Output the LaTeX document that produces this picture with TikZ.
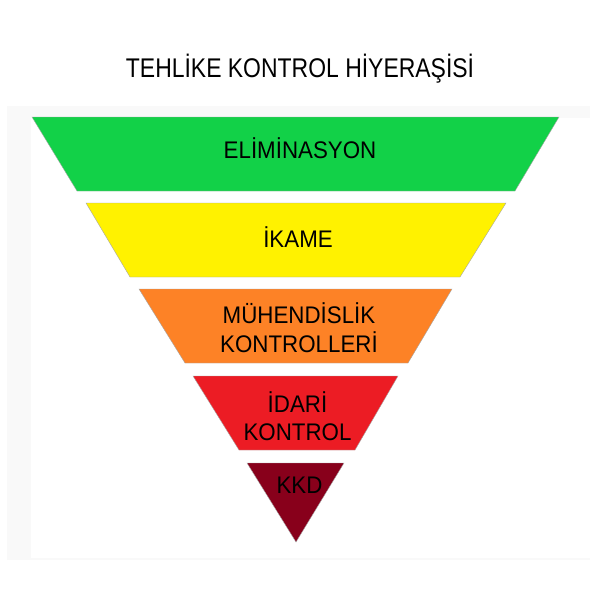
\documentclass[tikz,border=0pt]{standalone}
\usepackage{fontspec}
\setmainfont{Liberation Sans}
\newfontfamily\titlefont{Liberation Sans}[FakeStretch=0.85]
\newfontfamily\labelfont{Liberation Sans}[FakeStretch=0.93]
\definecolor{elimgreen}{RGB}{18,209,72}
\definecolor{ikameyellow}{RGB}{255,242,0}
\definecolor{muhorange}{RGB}{253,130,38}
\definecolor{idarired}{RGB}{236,28,36}
\definecolor{kkdred}{RGB}{136,0,27}
\definecolor{framegray}{RGB}{249,249,249}
\tikzset{
  band/.style={draw=black!35, line width=0.4pt, line join=miter},
  lab/.style={anchor=base, inner sep=0pt, font=\labelfont\fontsize{24}{28}\selectfont, text=black},
  ttl/.style={anchor=base, inner sep=0pt, font=\titlefont\fontsize{27}{30}\selectfont, text=black}
}
\begin{document}
\begin{tikzpicture}[x=1pt,y=-1pt]
\useasboundingbox (0,0) rectangle (600,600);
\fill[white] (0,0) rectangle (600,600);
\fill[framegray] (7,106) rectangle (590,560);
\fill[white] (31,118) rectangle (590,558);
% title
\node[ttl] (title) at (300,77.5) {TEHLİKE KONTROL HİYERAŞİSİ};
% bands
\path[band, fill=elimgreen] (32,117) -- (559,117) -- (515,191) -- (77,191) -- cycle;
\path[band, fill=ikameyellow] (86,203) -- (506,203) -- (460,277) -- (130,277) -- cycle;
\path[band, fill=muhorange] (139,289) -- (452,289) -- (408,363) -- (185,363) -- cycle;
\path[band, fill=idarired] (193,376) -- (398,376) -- (355,450) -- (239,450) -- cycle;
\path[band, fill=kkdred] (247,463) -- (344,463) -- (296,542) -- cycle;
% labels
\node[lab] (elim) at (300,158.5) {ELİMİNASYON};
\node[lab] (ikame) at (298,247.8) {İKAME};
\node[lab] (muh1) at (299,323.5) {MÜHENDİSLİK};
\node[lab] (muh2) at (299,352.5) {KONTROLLERİ};
\node[lab] (idari1) at (297.5,412.5) {İDARİ};
\node[lab] (idari2) at (297.5,440.5) {KONTROL};
\node[lab] (kkd) at (299.5,493) {KKD};
\end{tikzpicture}
\end{document}
